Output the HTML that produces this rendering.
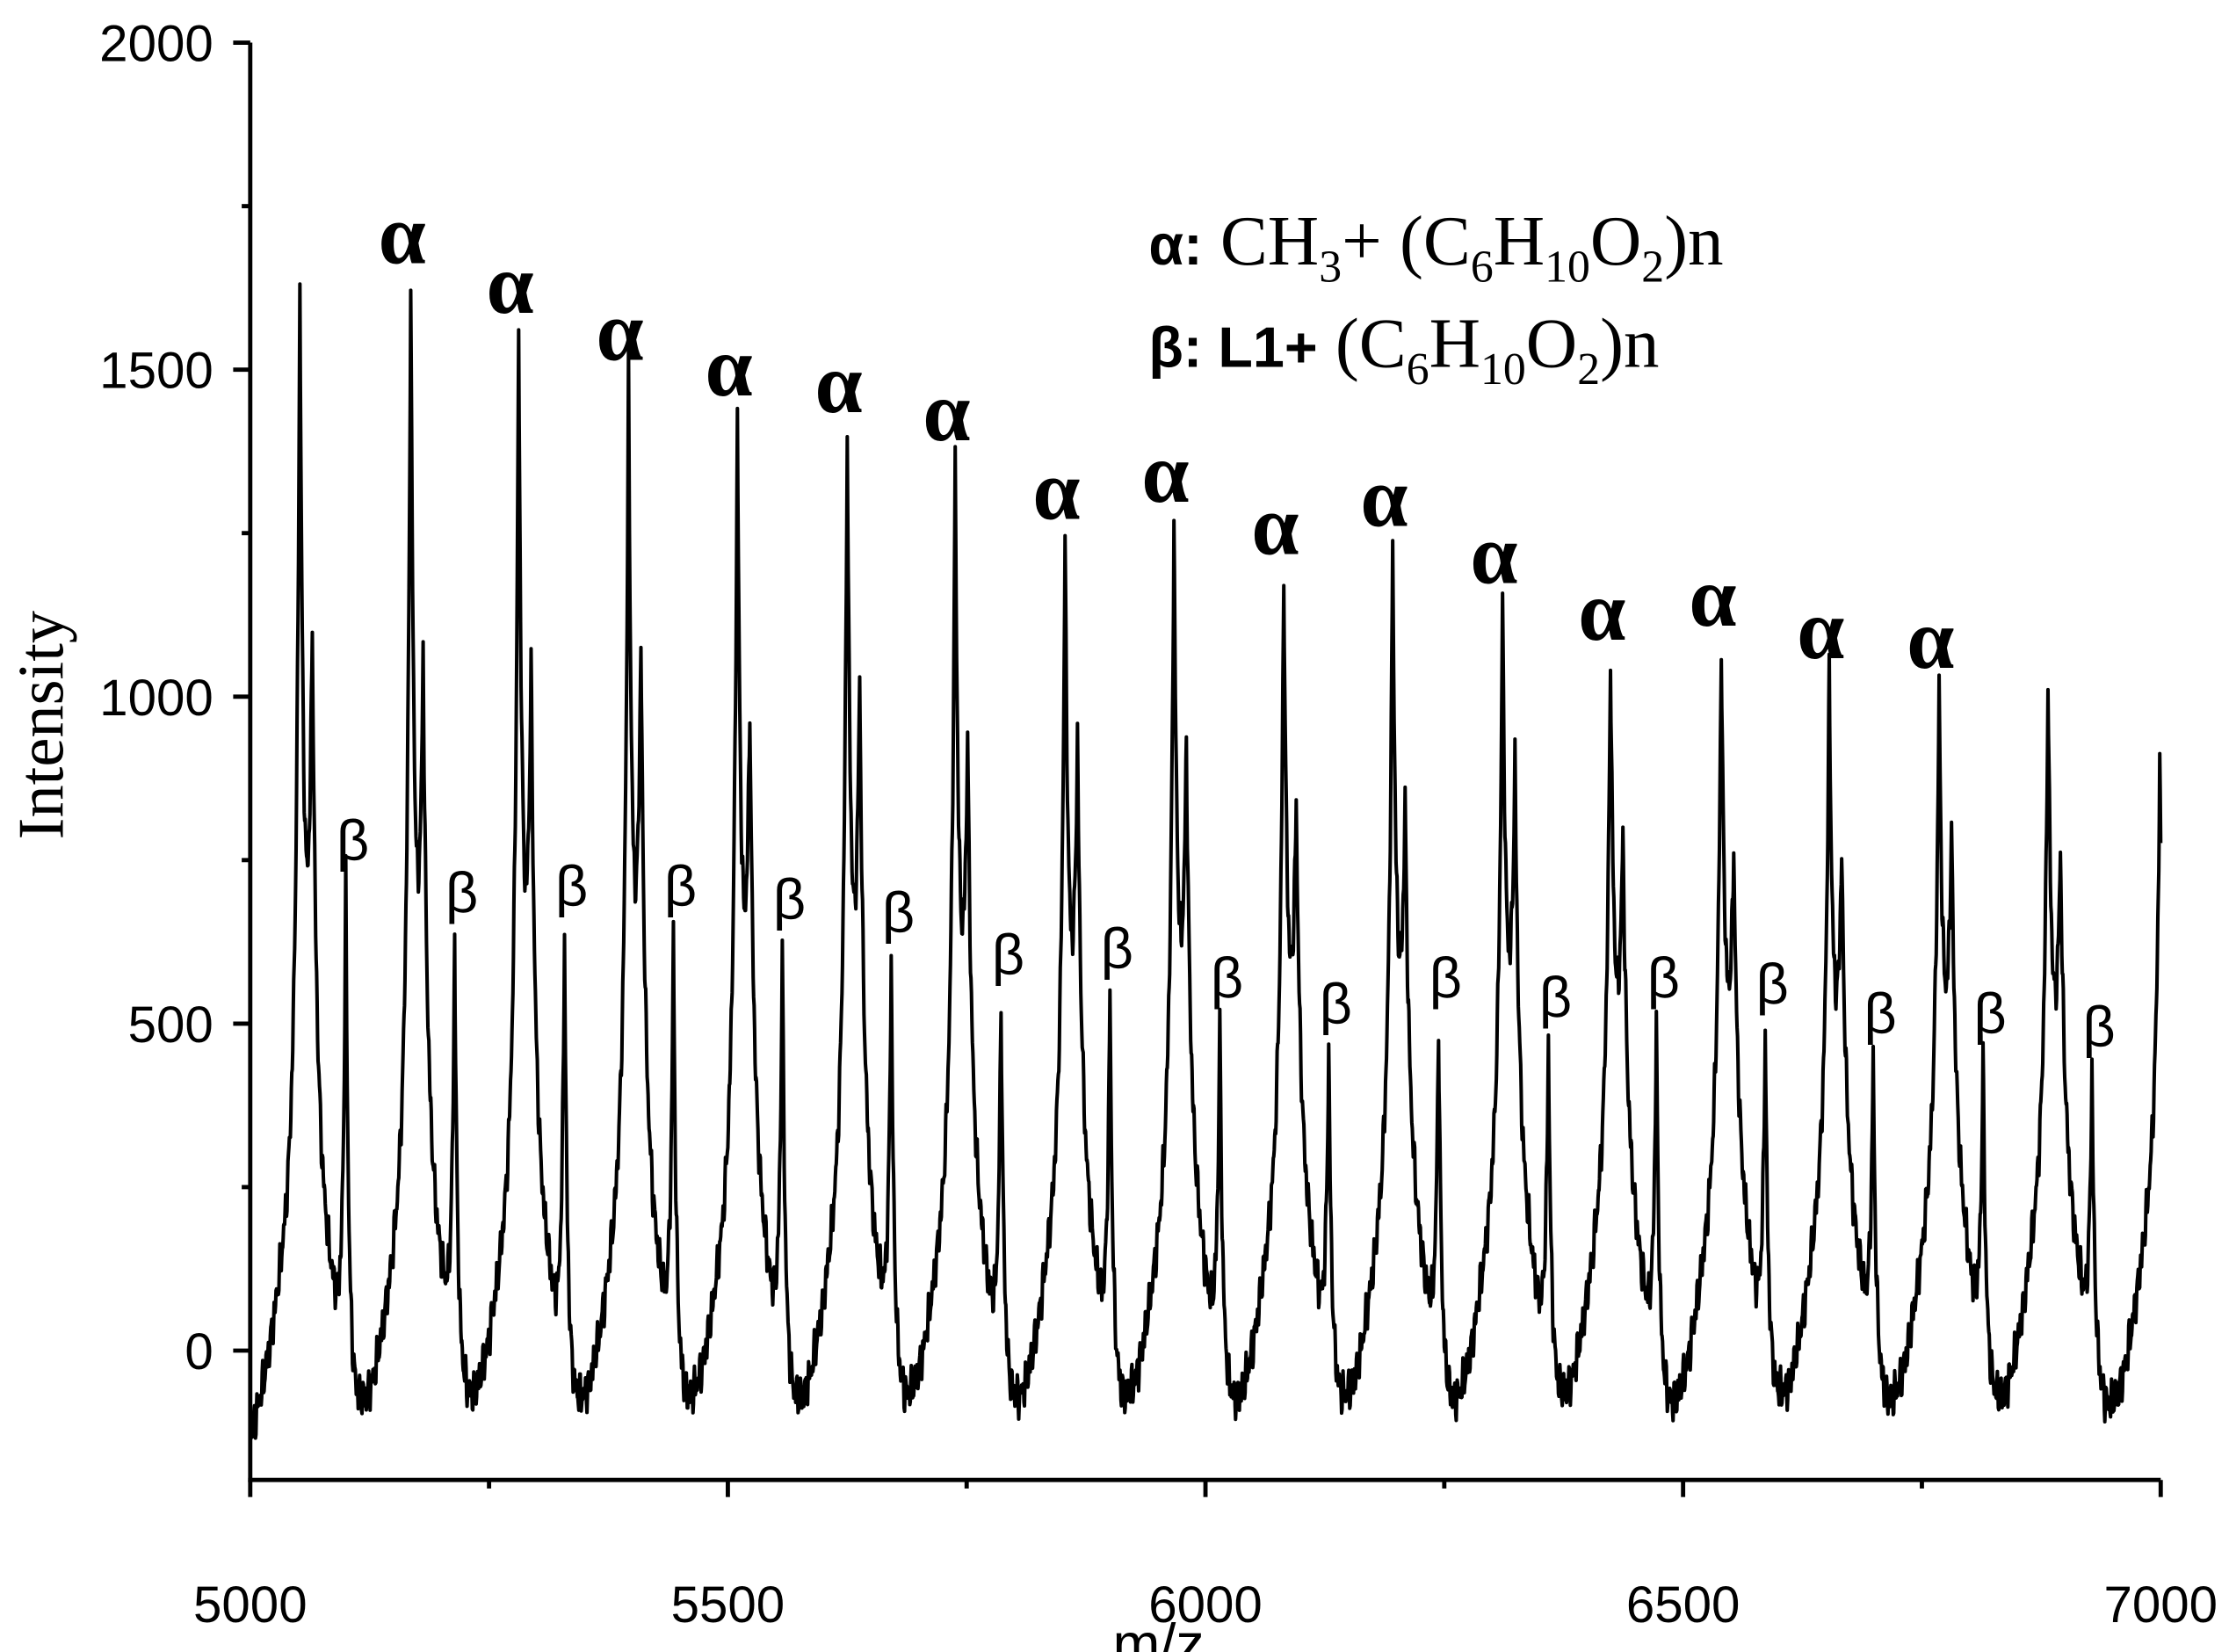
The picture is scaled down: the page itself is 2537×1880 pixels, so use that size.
<!DOCTYPE html>
<html><head><meta charset="utf-8"><style>
html,body{margin:0;padding:0;background:#fff;}
svg{display:block;}
</style></head><body>
<svg id="chart" xmlns="http://www.w3.org/2000/svg" width="2537" height="1880" viewBox="0 0 1568 1162">
<rect width="1568" height="1162" fill="#fff"/>
<g id="plot"></g>
<g id="axes"></g>
<g id="labels"></g>
<text transform="translate(44,510) rotate(-90)" text-anchor="middle" font-family="Liberation Serif, serif" font-size="46">Intensity</text>
<text x="815" y="1170" text-anchor="middle" font-family="Liberation Sans, sans-serif" font-size="40">m/z</text>
<g font-family="Liberation Serif, serif" font-size="50">
<text x="808" y="186"><tspan font-family="Liberation Sans, sans-serif" font-weight="bold" font-size="40">α:</tspan> CH<tspan font-size="32" dy="12">3</tspan><tspan dy="-12">+ (C</tspan><tspan font-size="32" dy="12">6</tspan><tspan dy="-12">H</tspan><tspan font-size="32" dy="12">10</tspan><tspan dy="-12">O</tspan><tspan font-size="32" dy="12">2</tspan><tspan dy="-12">)n</tspan></text>
<text x="808" y="258"><tspan font-family="Liberation Sans, sans-serif" font-weight="bold" font-size="40">β: L1+</tspan> (C<tspan font-size="32" dy="12">6</tspan><tspan dy="-12">H</tspan><tspan font-size="32" dy="12">10</tspan><tspan dy="-12">O</tspan><tspan font-size="32" dy="12">2</tspan><tspan dy="-12">)n</tspan></text>
</g>
</svg>
<script>
// ---- data ----
const groupMz      = [5052,5168,5281,5396,5510,5625,5738,5853,5967,6082,6196,6311,6424,6540,6653,6768,6882,6999];
const alphaInt     = [1635,1641,1565,1493,1439,1413,1370,1250,1276,1196,1239,1152,1065,1087,1037,1022,1026,890];
const shoulderInt  = [1115,1075,1055,1090,990,1040,945,940,935,845,845,910,800,770,765,805,770,0];
const betaMz       = [5100,5214,5329,5443,5557,5671,5786,5900,6015,6129,6244,6359,6472,6586,6699,6814,6928];
const betaInt      = [720,640,650,650,630,610,545,555,510,470,510,480,510,500,455,455,435];
const labeledAlpha = [1,2,3,4,5,6,7,8,9,10,11,12,13,14,15];
const xTicks = [5000,5500,6000,6500,7000];
const yTicks = [0,500,1000,1500,2000];

// ---- axes ----
const X0=176,X1=1520,Y0=950,Y2000=30,YB=1041;
const xs = m => X0 + (m-5000)/2000*(X1-X0);
const ys = v => Y0 - v/2000*(Y0-Y2000);
const NS="http://www.w3.org/2000/svg";
function mk(tag,attrs,parent){const e=document.createElementNS(NS,tag);for(const k in attrs)e.setAttribute(k,attrs[k]);parent.appendChild(e);return e;}

// ---- spectrum model ----
const WA=4.2, WS=4.5, WB=3;
function hump(m){
  let v=-170;
  for(let i=0;i<groupMz.length;i++){const d=m-groupMz[i]-6;v+=470*Math.exp(-(d*d)/(2*27*27));}
  return v;
}
let aA=alphaInt.map(v=>v), aS=shoulderInt.map(v=>v), aB=betaInt.map(v=>v);
function peaks(m,skip){
  let v=0;
  for(let i=0;i<groupMz.length;i++){
    if(skip!=='a'+i) v+=aA[i]*Math.exp(-Math.abs(m-groupMz[i])/WA);
    if(shoulderInt[i] && skip!=='s'+i) v+=aS[i]*Math.exp(-Math.abs(m-groupMz[i]-13)/WS);
  }
  for(let i=0;i<betaMz.length;i++) if(skip!=='b'+i) v+=aB[i]*Math.exp(-Math.abs(m-betaMz[i])/WB);
  return v;
}
for(let it=0;it<6;it++){
  const nA=alphaInt.map((h,i)=>h-hump(groupMz[i])-peaks(groupMz[i],'a'+i));
  const nS=shoulderInt.map((h,i)=>h?h-hump(groupMz[i]+13)-peaks(groupMz[i]+13,'s'+i):0);
  const nB=betaInt.map((h,i)=>h-hump(betaMz[i])-peaks(betaMz[i],'b'+i));
  aA=nA;aS=nS;aB=nB;
}
function intensity(m){
  return hump(m)+peaks(m,'')+28*Math.sin(m*1.73)*Math.sin(m*0.37)+12*Math.sin(m*3.1);
}
const plot=document.getElementById('plot');
let pts=[];
for(let m=5000;m<=7000;m+=0.5){pts.push(xs(m).toFixed(2)+','+ys(intensity(m)).toFixed(2));}
const line=mk('polyline',{points:pts.join(' '),fill:'none',stroke:'#000','stroke-width':2.5,'stroke-linejoin':'round'},plot);



// ---- axes drawing ----
const ax=document.getElementById('axes');
const la=mk('line',{x1:X0,y1:Y2000,x2:X0,y2:YB+1.5,stroke:'#000','stroke-width':3},ax);


const lb=mk('line',{x1:X0-1.5,y1:YB,x2:X1,y2:YB,stroke:'#000','stroke-width':3},ax);


for(let m=5000;m<=7000;m+=250){
  const major=xTicks.includes(m);
  const t=mk('line',{x1:xs(m),y1:YB,x2:xs(m),y2:YB+(major?12:6),stroke:'#000','stroke-width':3},ax);
  
  
}
xTicks.forEach(m=>{
  const t=mk('text',{x:xs(m),y:1141,'text-anchor':'middle','font-family':'Liberation Sans, sans-serif','font-size':36},ax);
  t.textContent=m;
  
  
});
for(let v=0;v<=2000;v+=250){
  const major=yTicks.includes(v);
  const t=mk('line',{x1:X0-(major?12:6),y1:ys(v),x2:X0,y2:ys(v),stroke:'#000','stroke-width':3},ax);
  
  
}
yTicks.forEach(v=>{
  const t=mk('text',{x:150,y:ys(v)+13,'text-anchor':'end','font-family':'Liberation Sans, sans-serif','font-size':36},ax);
  t.textContent=v;
  
  
});

// ---- peak labels ----
const lg=document.getElementById('labels');
labeledAlpha.forEach(i=>{
  const t=mk('text',{x:xs(groupMz[i])-6,y:ys(alphaInt[i])-10,'text-anchor':'middle','font-family':'Liberation Serif, serif','font-weight':'bold','font-size':60},lg);
  t.textContent='α';
  
  
});
betaInt.forEach((b,i)=>{
  const t=mk('text',{x:xs(betaMz[i])+5,y:ys(b)-14,'text-anchor':'middle','font-family':'Liberation Sans, sans-serif','font-size':40},lg);
  t.textContent='β';
  
  
});
</script>
</body></html>
